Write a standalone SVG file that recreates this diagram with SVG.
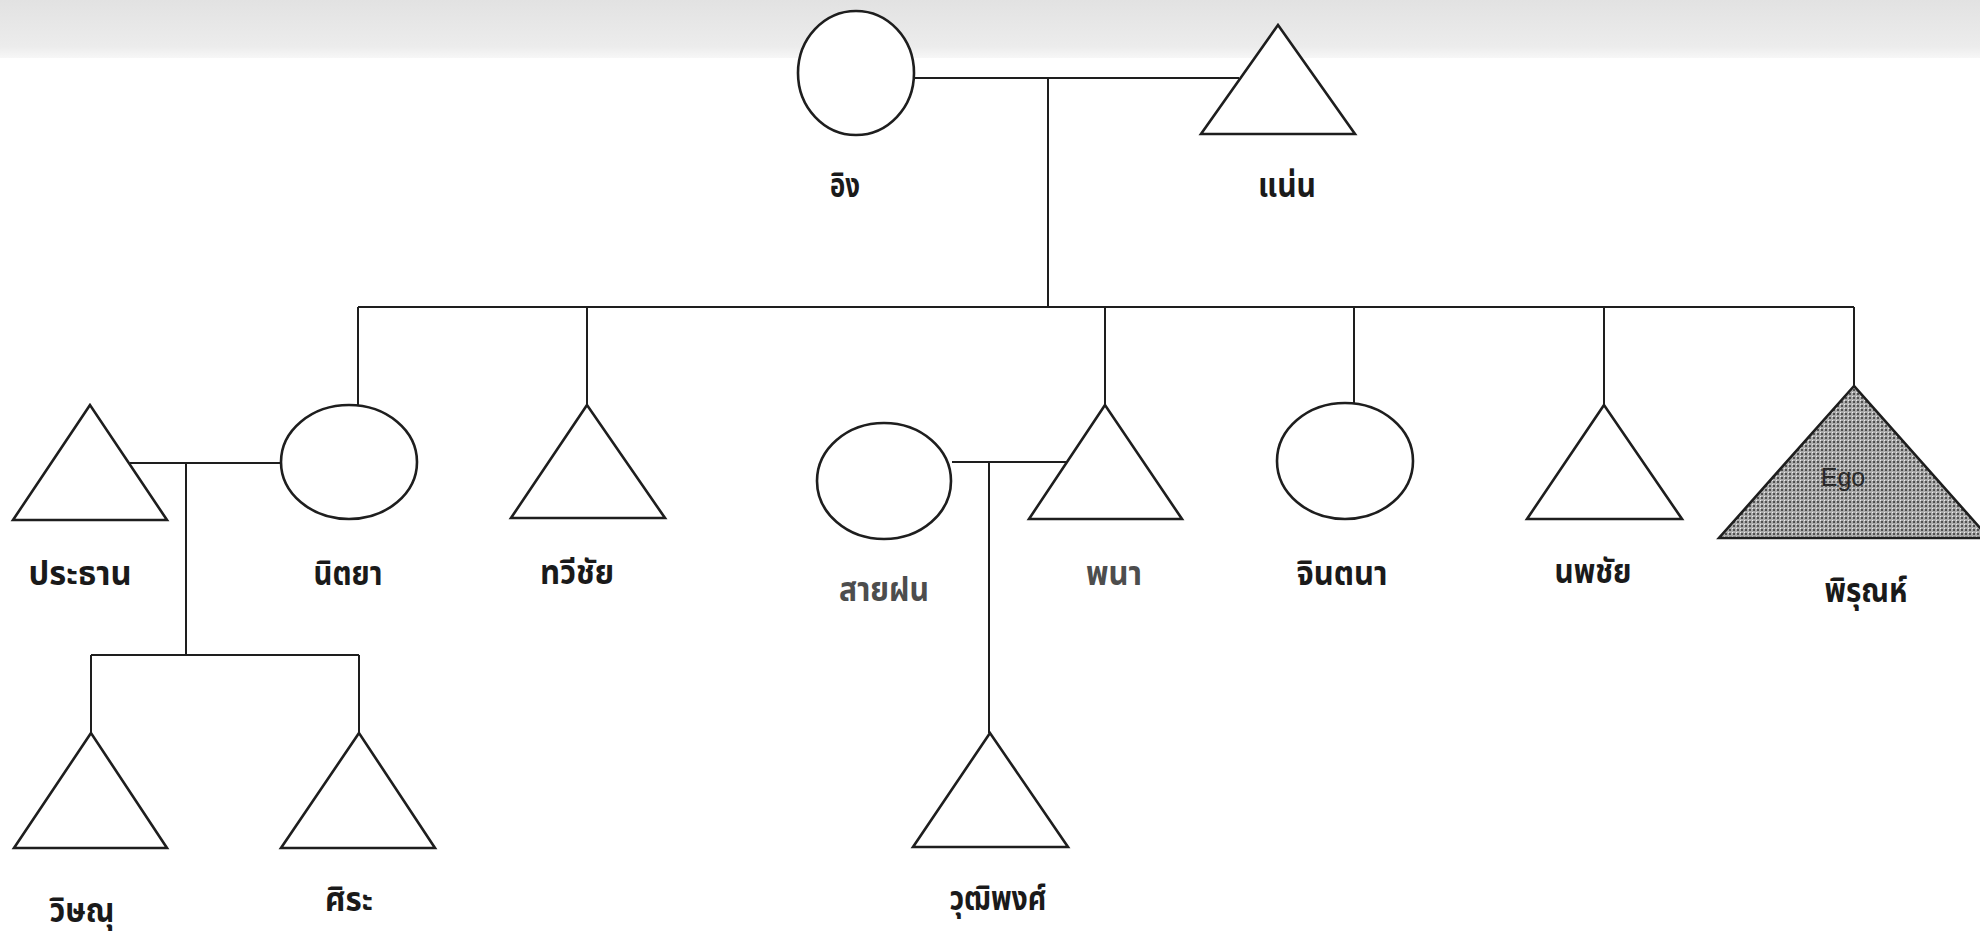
<svg xmlns="http://www.w3.org/2000/svg" width="1980" height="941" viewBox="0 0 1980 941">
<defs>
<linearGradient id="band" x1="0" y1="0" x2="0" y2="1">
<stop offset="0" stop-color="#e2e2e2"/>
<stop offset="0.8" stop-color="#ececec"/>
<stop offset="1" stop-color="#f7f7f7"/>
</linearGradient>
<pattern id="ego" width="4" height="4" patternUnits="userSpaceOnUse">
<rect width="4" height="4" fill="#ababab"/>
<circle cx="2" cy="2" r="1" fill="#333"/>
<rect x="0" y="0" width="1" height="1" fill="#ececec"/>
</pattern>
<style>
.shape{fill:#fff;stroke:#1e1e1e;stroke-width:2.6;stroke-linejoin:miter}
.line{fill:none;stroke:#1e1e1e;stroke-width:2}
.lbl{font-family:"Noto Sans Thai","Noto Sans","DejaVu Sans",sans-serif;font-weight:bold;font-size:33px;fill:#1a1a1a;text-anchor:middle}
.faint{fill:#4d4d4d}
.ego{font-family:"Liberation Sans",Arial,sans-serif;font-size:25px;fill:#2a2a2a;text-anchor:middle}
</style>
</defs>
<rect width="1980" height="941" fill="#fff"/>
<rect width="1980" height="58" fill="url(#band)"/>

<g id="connectors">
<path class="line" d="M914,78 H1239"/>
<path class="line" d="M1048,78 V307"/>
<path class="line" d="M358,307 H1854"/>
<path class="line" d="M358,307 V405"/>
<path class="line" d="M587,307 V405"/>
<path class="line" d="M1105,307 V405"/>
<path class="line" d="M1354,307 V403"/>
<path class="line" d="M1604,307 V405"/>
<path class="line" d="M1854,307 V386"/>
<path class="line" d="M130,463 H281"/>
<path class="line" d="M186,463 V655"/>
<path class="line" d="M91,655 H359"/>
<path class="line" d="M91,655 V733"/>
<path class="line" d="M359,655 V733"/>
<path class="line" d="M952,462 H1067"/>
<path class="line" d="M989,462 V733"/>
</g>

<g id="ing">
<ellipse class="shape" cx="856" cy="73" rx="58" ry="62"/>
<text class="lbl" x="845" y="197" textLength="30" lengthAdjust="spacingAndGlyphs">อิง</text>
</g>
<g id="naen">
<polygon class="shape" points="1278,25 1201,134 1355,134"/>
<text class="lbl" x="1287" y="197" textLength="58" lengthAdjust="spacingAndGlyphs">แน่น</text>
</g>
<g id="prathan">
<polygon class="shape" points="90,405 13,520 167,520"/>
<text class="lbl" x="80" y="585" textLength="103" lengthAdjust="spacingAndGlyphs">ประธาน</text>
</g>
<g id="nittaya">
<ellipse class="shape" cx="349" cy="462" rx="68" ry="57"/>
<text class="lbl" x="348" y="585" textLength="69" lengthAdjust="spacingAndGlyphs">นิตยา</text>
</g>
<g id="thawichai">
<polygon class="shape" points="587,405 511,518 665,518"/>
<text class="lbl" x="577" y="584" textLength="74" lengthAdjust="spacingAndGlyphs">ทวีชัย</text>
</g>
<g id="saifon">
<ellipse class="shape" cx="884" cy="481" rx="67" ry="58"/>
<text class="lbl faint" x="884" y="601" textLength="90" lengthAdjust="spacingAndGlyphs">สายฝน</text>
</g>
<g id="phana">
<polygon class="shape" points="1105,405 1029,519 1182,519"/>
<text class="lbl faint" x="1114" y="585" textLength="56" lengthAdjust="spacingAndGlyphs">พนา</text>
</g>
<g id="chintana">
<ellipse class="shape" cx="1345" cy="461" rx="68" ry="58"/>
<text class="lbl" x="1342" y="585" textLength="91" lengthAdjust="spacingAndGlyphs">จินตนา</text>
</g>
<g id="noppachai">
<polygon class="shape" points="1604,405 1527,519 1682,519"/>
<text class="lbl" x="1593" y="583" textLength="77" lengthAdjust="spacingAndGlyphs">นพชัย</text>
</g>
<g id="pirun">
<polygon class="shape" points="1854,386 1719,538 1989,538" style="fill:url(#ego)"/>
<text class="ego" x="1843" y="486">Ego</text>
<text class="lbl" x="1866" y="602" textLength="83" lengthAdjust="spacingAndGlyphs">พิรุณห์</text>
</g>
<g id="witsanu">
<polygon class="shape" points="91,733 14,848 167,848"/>
<text class="lbl" x="82" y="922" textLength="65" lengthAdjust="spacingAndGlyphs">วิษณุ</text>
</g>
<g id="sira">
<polygon class="shape" points="359,733 281,848 435,848"/>
<text class="lbl" x="349" y="911" textLength="48" lengthAdjust="spacingAndGlyphs">ศิระ</text>
</g>
<g id="wutthiphong">
<polygon class="shape" points="990,733 913,847 1068,847"/>
<text class="lbl" x="998" y="910" textLength="97" lengthAdjust="spacingAndGlyphs">วุฒิพงศ์</text>
</g>
</svg>
